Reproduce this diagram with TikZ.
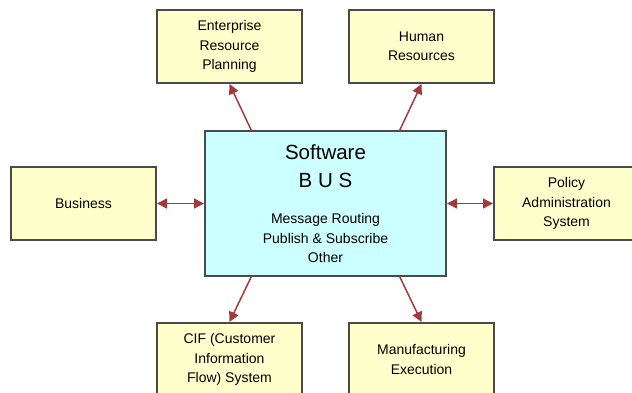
\documentclass[tikz,border=0pt]{standalone}
\usepackage{fontspec}
\setmainfont{Liberation Sans}
\usetikzlibrary{arrows.meta,calc}
\definecolor{boxyellow}{HTML}{FFFFCC}
\definecolor{buscyan}{HTML}{CCFFFF}
\definecolor{boxedge}{HTML}{4A4A4A}
\definecolor{linkred}{HTML}{A33A3A}
\newcommand\system[3]{\node[system] (#1) at (#2) {#3};}
\newcommand\link[2]{\draw[link] (#1) -- (#2);}
\newcommand\duplex[2]{\draw[link,{Triangle[length=10pt,width=10pt]}-{Triangle[length=10pt,width=10pt]}] (#1) -- (#2);}

\begin{document}
\begin{tikzpicture}[x=1pt,y=-1pt]
\tikzstyle{system}=[draw=boxedge,line width=2pt,fill=boxyellow,align=center,
  minimum width=145pt,minimum height=73pt,inner sep=0pt,
  font=\fontsize{14}{19.5}\selectfont]
\tikzstyle{bus}=[draw=boxedge,line width=2pt,fill=buscyan,
  minimum width=241pt,minimum height=144pt,inner sep=0pt]
\tikzstyle{link}=[draw=linkred,line width=1.5pt,-{Triangle[length=10pt,width=10pt]}]
\useasboundingbox (0,0) rectangle (632,393);
\clip (0,0) rectangle (632,393);

\node[bus] (bus) at (325.5,203.5) {};
\node[align=center,font=\fontsize{20.5}{28}\selectfont] (title) at (325.5,166) {Software\\B U S};
\node[align=center,font=\fontsize{14}{19.5}\selectfont] (services) at (325.5,238) {Message Routing\\Publish \& Subscribe\\Other};

\system{erp}{229.5,46.5}{Enterprise\\Resource\\Planning}
\system{hr}{421.5,46.5}{Human\\Resources}
\system{business}{83.5,203.5}{Business}
\system{policy}{566.5,203.5}{Policy\\Administration\\System}
\system{cif}{229.5,359.5}{CIF (Customer\\Information\\Flow) System}
\system{mfg}{421.5,359.5}{Manufacturing\\Execution}

%% connections

\coordinate (bus-nw) at ($(bus.north west)!0.195!(bus.north east)$);
\coordinate (bus-ne) at ($(bus.north west)!0.805!(bus.north east)$);
\coordinate (bus-sw) at ($(bus.south west)!0.195!(bus.south east)$);
\coordinate (bus-se) at ($(bus.south west)!0.805!(bus.south east)$);

\link{bus-nw}{erp.south}
\link{bus-ne}{hr.south}
\link{bus-sw}{cif.north}
\link{bus-se}{mfg.north}
\duplex{business}{bus}
\duplex{bus}{policy}
\end{tikzpicture}
\end{document}
